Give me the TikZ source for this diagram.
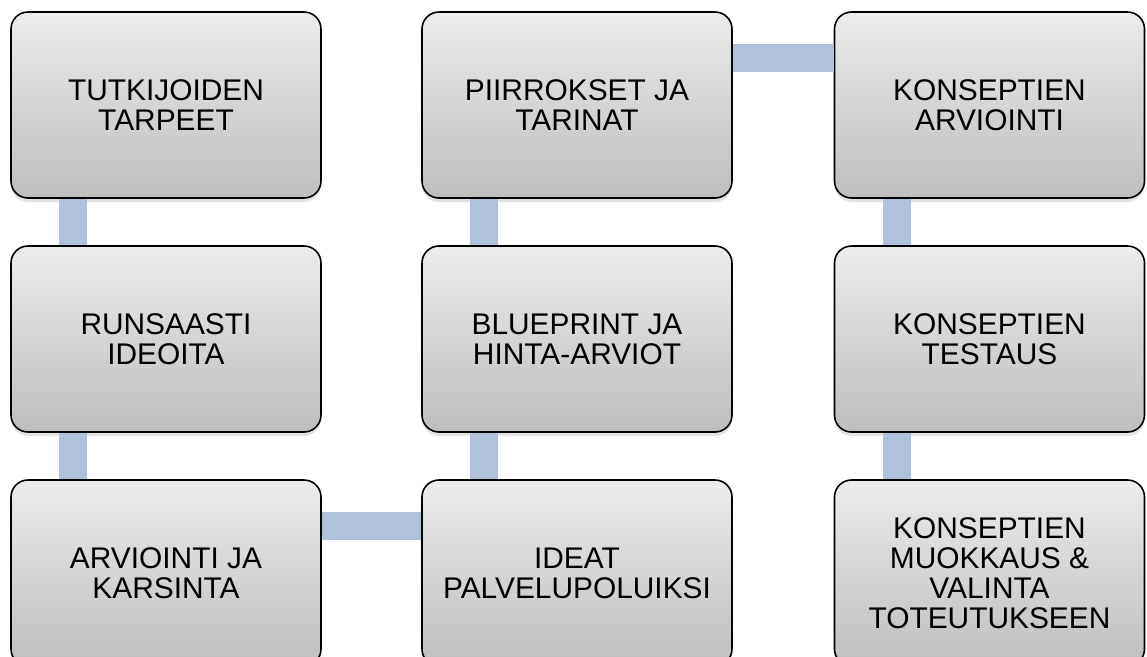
\documentclass[tikz,border=0pt]{standalone}
\usepackage{fontspec}
\setmainfont{Liberation Sans}
\usepackage{xcolor}
\usepackage{tikz}
\usetikzlibrary{shadows, positioning}

\definecolor{linkblue}{RGB}{176,193,220}
\definecolor{boxtop}{RGB}{236,236,236}
\definecolor{boxbottom}{RGB}{190,190,190}

\begin{document}
\begin{tikzpicture}[
        phase/.style={rectangle, rounded corners=0.34cm, draw=black, line width=0.9pt, top color=boxtop, bottom color=boxbottom, minimum width=6.2cm, minimum height=3.72cm, align=center, font=\fontsize{17}{17}\selectfont, drop shadow={opacity=0.22, shadow xshift=0cm, shadow yshift=-0.08cm}},
        link/.style={draw=linkblue, line width=0.56cm}
    ]
        \useasboundingbox (0, 0) rectangle (22.94, -13.12);
        
        % Column 1
        \node[phase] (tarpeet) at (3.32, -2.1) {TUTKIJOIDEN\\TARPEET};
        \node[phase] (ideoita) at (3.32, -6.78) {RUNSAASTI\\IDEOITA};
        \node[phase] (karsinta) at (3.32, -11.46) {ARVIOINTI JA\\KARSINTA};
        
        % Column 2
        \node[phase] (tarinat) at (11.54, -2.1) {PIIRROKSET JA\\TARINAT};
        \node[phase] (blueprint) at (11.54, -6.78) {BLUEPRINT JA\\HINTA-ARVIOT};
        \node[phase] (polut) at (11.54, -11.46) {IDEAT\\PALVELUPOLUIKSI};
        
        % Column 3
        \node[phase] (arviointi) at (19.79, -2.1) {KONSEPTIEN\\ARVIOINTI};
        \node[phase] (testaus) at (19.79, -6.78) {KONSEPTIEN\\TESTAUS};
        \node[phase] (valinta) at (19.79, -11.46) {KONSEPTIEN\\MUOKKAUS \&\\VALINTA\\TOTEUTUKSEEN};
        
        % Links
        \draw[link] ([xshift=1.26cm]tarpeet.south west) -- ([xshift=1.26cm]ideoita.north west);
        \draw[link] ([xshift=1.26cm]ideoita.south west) -- ([xshift=1.26cm]karsinta.north west);
        \draw[link] ([yshift=-0.94cm]karsinta.north east) -- ([yshift=-0.94cm]polut.north west);
        \draw[link] ([xshift=1.26cm]polut.north west) -- ([xshift=1.26cm]blueprint.south west);
        \draw[link] ([xshift=1.26cm]blueprint.north west) -- ([xshift=1.26cm]tarinat.south west);
        \draw[link] ([yshift=-0.94cm]tarinat.north east) -- ([yshift=-0.94cm]arviointi.north west);
        \draw[link] ([xshift=1.26cm]arviointi.south west) -- ([xshift=1.26cm]testaus.north west);
        \draw[link] ([xshift=1.26cm]testaus.south west) -- ([xshift=1.26cm]valinta.north west);
    \end{tikzpicture}
\end{document}
